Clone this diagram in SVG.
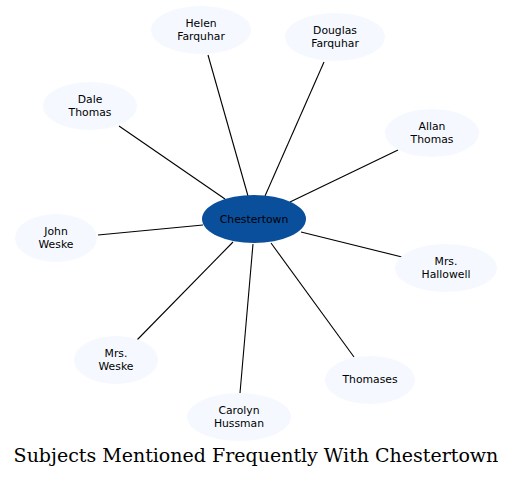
<svg xmlns="http://www.w3.org/2000/svg" width="513" height="478" viewBox="0 0 513 478">
<style>
.n ellipse{fill:#f5f9ff;stroke:none}
.n text{font-family:"DejaVu Sans",sans-serif;font-size:10.8px;fill:#000;text-anchor:middle}
#edges line{stroke:#000;stroke-width:1.1}
.title{font-family:"DejaVu Serif",serif;font-size:19px;text-anchor:middle;fill:#000}
</style>
<rect width="513" height="478" fill="#fff"/>
<g id="edges">
<line x1="208" y1="55" x2="248" y2="196"/>
<line x1="324" y1="62" x2="265" y2="196"/>
<line x1="119" y1="126" x2="225" y2="199"/>
<line x1="398" y1="150" x2="290" y2="202"/>
<line x1="98" y1="235" x2="203" y2="225"/>
<line x1="402" y1="257" x2="301" y2="232"/>
<line x1="137" y1="340" x2="233" y2="242"/>
<line x1="354" y1="357" x2="271" y2="243"/>
<line x1="240" y1="393" x2="253" y2="244"/>
</g>
<g id="chestertown" class="n"><ellipse cx="254" cy="219" rx="52" ry="24" style="fill:#0a4f9c"/><text x="254" y="222.5">Chestertown</text></g>
<g id="helen" class="n"><ellipse cx="201" cy="30" rx="50" ry="24"/><text x="201" y="27">Helen</text><text x="201" y="39.5">Farquhar</text></g>
<g id="douglas" class="n"><ellipse cx="335" cy="37" rx="50" ry="24"/><text x="335" y="34">Douglas</text><text x="335" y="46.5">Farquhar</text></g>
<g id="dale" class="n"><ellipse cx="90" cy="106" rx="47" ry="24"/><text x="90" y="103">Dale</text><text x="90" y="115.5">Thomas</text></g>
<g id="allan" class="n"><ellipse cx="432" cy="133" rx="47" ry="24"/><text x="432" y="130">Allan</text><text x="432" y="142.5">Thomas</text></g>
<g id="john" class="n"><ellipse cx="56" cy="238" rx="41" ry="24"/><text x="56" y="235">John</text><text x="56" y="247.5">Weske</text></g>
<g id="hallowell" class="n"><ellipse cx="446" cy="268" rx="51" ry="24"/><text x="446" y="265">Mrs.</text><text x="446" y="277.5">Hallowell</text></g>
<g id="mrsweske" class="n"><ellipse cx="116" cy="360" rx="42" ry="24"/><text x="116" y="357">Mrs.</text><text x="116" y="369.5">Weske</text></g>
<g id="thomases" class="n"><ellipse cx="370" cy="380" rx="45" ry="24"/><text x="370" y="383">Thomases</text></g>
<g id="carolyn" class="n"><ellipse cx="239" cy="417" rx="52" ry="24"/><text x="239" y="414">Carolyn</text><text x="239" y="426.5">Hussman</text></g>
<text class="title" x="256" y="462">Subjects Mentioned Frequently With Chestertown</text>
</svg>
